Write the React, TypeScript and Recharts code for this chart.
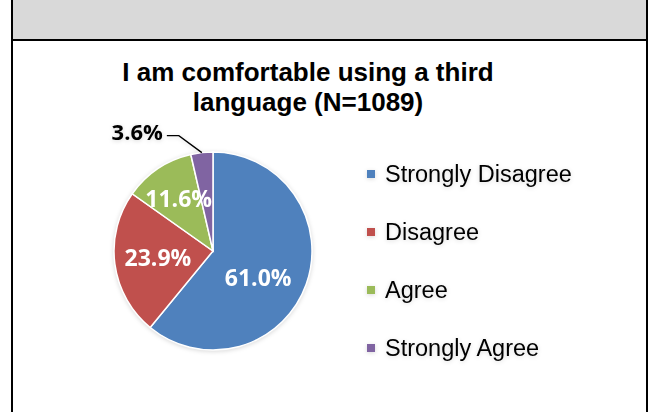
import React from 'react';
import { PieChart, Pie, Cell, Legend } from 'recharts';

const categories = ['Strongly Disagree', 'Disagree', 'Agree', 'Strongly Agree'];
const shares = [61.0, 23.9, 11.6, 3.6];
const colors = ['#4F81BD', '#C0504D', '#9BBB59', '#8064A2'];
const titleLines = ['I am comfortable using a third', 'language (N=1089)'];

const data = categories.map((name, i) => ({ name, value: shares[i] }));

const RAD = Math.PI / 180;
const labelFont = { fontFamily: '"Open Sans", Lato, sans-serif', fontWeight: 700, fontSize: 23 };

// inside labels sit near the slice's mid angle, the smallest one goes outside with a leader line
const renderLabel = (props: any) => {
  const { cx, cy, midAngle, outerRadius, index, value } = props;
  const text = `${Number(value).toFixed(1)}%`;
  if (index === 3) {
    const ex = cx + outerRadius * Math.cos(-midAngle * RAD);
    const ey = cy + outerRadius * Math.sin(-midAngle * RAD);
    const bx = ex - 23;
    const by = ey - 17;
    return (
      <g>
        <polyline points={`${ex},${ey} ${bx},${by} ${bx - 12},${by}`} fill="none" stroke="#000" strokeWidth={1.3} />
        <text x={bx - 16} y={by - 5} textAnchor="end" dominantBaseline="central" fill="#000"
          style={{ ...labelFont, fontSize: 22 }}>
          {text}
        </text>
      </g>
    );
  }
  const factor = [0.525, 0.56, 0.64][index];
  const shift = [-10, -1, -1][index];
  const a = (midAngle + shift) * RAD;
  const x = cx + outerRadius * factor * Math.cos(-a);
  const y = cy + outerRadius * factor * Math.sin(-a);
  return (
    <text x={x} y={y} textAnchor="middle" dominantBaseline="central" fill="#fff" style={labelFont}>
      {text}
    </text>
  );
};

const renderLegend = () => (
  <div style={{ fontFamily: 'Arial, "Liberation Sans", sans-serif', fontSize: 23.5, color: '#000' }}>
    {categories.map((c, i) => (
      <div key={c} style={{ display: 'flex', alignItems: 'center', height: 58 }}>
        <span style={{ display: 'inline-block', width: 8, height: 8, background: colors[i], marginRight: 10 }} />
        <span>{c}</span>
      </div>
    ))}
  </div>
);

export default function App() {
  return (
    <div style={{ position: 'fixed', left: 0, top: 0, width: 650, height: 412, background: '#fff', overflow: 'hidden' }}>
      <div style={{ position: 'absolute', left: 11, top: -2, width: 637, height: 43, boxSizing: 'border-box', background: '#D9D9D9',
        borderLeft: '2px solid #000', borderRight: '2px solid #000', borderBottom: '2px solid #000' }} />
      <div style={{ position: 'absolute', left: 11, top: 41, width: 637, height: 380, boxSizing: 'border-box',
        borderLeft: '2px solid #000', borderRight: '2px solid #000' }} />
      <div style={{ position: 'absolute', left: 108, top: 57, width: 400, textAlign: 'center', whiteSpace: 'nowrap',
        fontFamily: 'Arial, "Liberation Sans", sans-serif', fontWeight: 700, fontSize: 26, lineHeight: '30px', color: '#000' }}>
        {titleLines.map((l) => <div key={l}>{l}</div>)}
      </div>
      <div style={{ position: 'absolute', left: 0, top: 0, filter: 'drop-shadow(0 1px 2px rgba(0,0,0,0.15))' }}>
        <PieChart width={650} height={412} margin={{ top: 0, right: 0, bottom: 0, left: 0 }}>
          <Pie data={data} dataKey="value" nameKey="name" cx={213} cy={251} outerRadius={99}
            startAngle={90} endAngle={-270} stroke="#fff" strokeWidth={1.5}
            label={renderLabel} labelLine={false} isAnimationActive={false}>
            {data.map((d, i) => <Cell key={d.name} fill={colors[i]} />)}
          </Pie>
          <Legend layout="vertical" align="right" verticalAlign="top"
            wrapperStyle={{ left: 367, top: 145, width: 270, filter: 'none' }} content={renderLegend} />
        </PieChart>
      </div>
    </div>
  );
}
